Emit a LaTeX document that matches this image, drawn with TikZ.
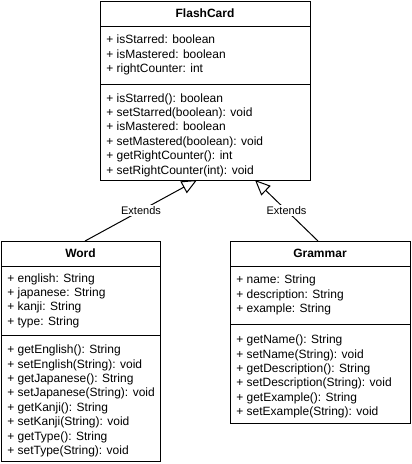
\documentclass[tikz,border=0pt]{standalone}
\usepackage{fontspec}
\setmainfont{Liberation Sans}
\usetikzlibrary{arrows.meta, positioning}

\tikzset{
  classhead/.style={draw, line width=0.75pt, outer sep=0pt, anchor=north, minimum width=#1, minimum height=18.75pt, font=\fontsize{9}{10.8}\selectfont\bfseries},
  classpart/.style={draw, line width=0.75pt, outer sep=0pt, minimum width=#1},
  members/.style={align=left, inner sep=0pt, font=\fontsize{9}{10.8}\selectfont},
  inherit/.style={line width=0.75pt, -{Triangle[open, length=11.5pt, width=10pt]}},
  extlabel/.style={fill=white, inner sep=1pt, font=\fontsize{8.25}{10}\selectfont}
}

\begin{document}
\begin{tikzpicture}[x=0.75pt, y=-0.75pt]
        \useasboundingbox (0,0) rectangle (411,464);

        % Lớp FlashCard
        \node[classhead=157.5pt] (fcHead) at (205,1) {FlashCard};
        \node[classpart=157.5pt, minimum height=43.5pt, below=0pt of fcHead] (fcAttr) {}; % Thuộc tính
        \node[classpart=157.5pt, minimum height=72pt, below=0pt of fcAttr] (fcMeth) {}; % Phương thức
        \node[members, right=4.5pt of fcAttr.west] (fcAttrText) {+ isStarred: boolean\\+ isMastered: boolean\\+ rightCounter: int};
        \node[members, right=4.5pt of fcMeth.west, yshift=-2.25pt] (fcMethText) {+ isStarred(): boolean\\+ setStarred(boolean): void\\+ isMastered: boolean\\+ setMastered(boolean): void\\+ getRightCounter(): int\\+ setRightCounter(int): void};

        % Lớp Word
        \node[classhead=119.25pt] (wordHead) at (80.5,241) {Word};
        \node[classpart=119.25pt, minimum height=51.75pt, below=0pt of wordHead] (wordAttr) {}; % Thuộc tính
        \node[classpart=119.25pt, minimum height=94.5pt, below=0pt of wordAttr] (wordMeth) {}; % Phương thức
        \node[members, right=4.5pt of wordAttr.west] (wordAttrText) {+ english: String\\+ japanese: String\\+ kanji: String\\+ type: String};
        \node[members, right=4.5pt of wordMeth.west, yshift=-2.25pt] (wordMethText) {+ getEnglish(): String\\+ setEnglish(String): void\\+ getJapanese(): String\\+ setJapanese(String): void\\+ getKanji(): String\\+ setKanji(String): void\\+ getType(): String\\+ setType(String): void};

        % Lớp Grammar
        \node[classhead=135pt] (grHead) at (320,241) {Grammar};
        \node[classpart=135pt, minimum height=43.5pt, below=0pt of grHead] (grAttr) {}; % Thuộc tính
        \node[classpart=135pt, minimum height=74.25pt, below=0pt of grAttr] (grMeth) {}; % Phương thức
        \node[members, right=4.5pt of grAttr.west] (grAttrText) {+ name: String\\+ description: String\\+ example: String};
        \node[members, right=4.5pt of grMeth.west, yshift=-2.25pt] (grMethText) {+ getName(): String\\+ setName(String): void\\+ getDescription(): String\\+ setDescription(String): void\\+ getExample(): String\\+ setExample(String): void};

        % Quan hệ kế thừa
        \draw[inherit] ([xshift=3.4pt]wordHead.north) -- node[extlabel] (extWord) {Extends} ([xshift=-6pt]fcMeth.south); % Word -> FlashCard
        \draw[inherit] ([xshift=-1.5pt]grHead.north) -- node[extlabel] (extGr) {Extends} ([xshift=37.5pt]fcMeth.south); % Grammar -> FlashCard

\end{tikzpicture}
\end{document}
